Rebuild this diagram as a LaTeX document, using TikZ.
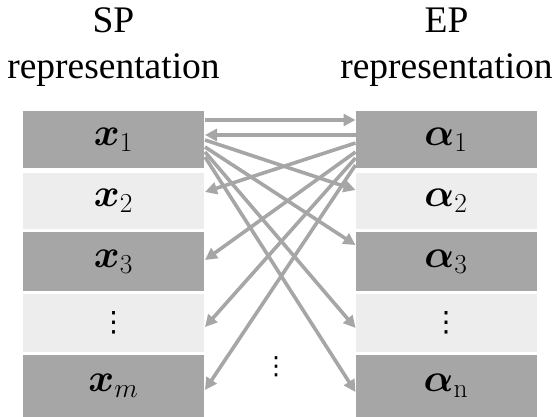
\RequirePackage{fix-cm}
\documentclass[tikz,border=0pt]{standalone}
\usepackage{amsmath,bm,graphicx}
\usepackage{fontspec}
\newfontfamily\titlefont{Liberation Serif}
\newfontfamily\dotfont{DejaVu Sans}
\newcommand{\colvdots}{{\dotfont ⋮}}
\newcommand{\mlab}[1]{\scalebox{1.4}{$#1$}}
\usetikzlibrary{arrows.meta,calc}
\definecolor{darkbox}{HTML}{A6A6A6}
\definecolor{lightbox}{HTML}{EDEDED}
\definecolor{arrcol}{HTML}{A6A6A6}
\begin{document}
\begin{tikzpicture}[x=1pt,y=-1pt,
  cell/.style={minimum width=181pt,inner sep=0pt,outer sep=0pt,font=\fontsize{28}{34}\selectfont},
  darkcell/.style={cell,fill=darkbox},
  lightcell/.style={cell,fill=lightbox},
  ttl/.style={font=\titlefont\fontsize{37.5}{46}\selectfont,anchor=base,inner sep=0pt},
  arr/.style={draw=arrcol,line width=3.6pt,-{Triangle[length=12pt,width=12pt]}}]
\useasboundingbox (0,0) rectangle (560,417);
% titles
\node[ttl] (t1a) at (113.5,33) {SP};
\node[ttl] (t1b) at (113.5,79) {representation};
\node[ttl] (t2a) at (446.5,33) {EP};
\node[ttl] (t2b) at (446.5,79) {representation};
% left column
\node[darkcell,minimum height=57pt]  (x1) at (113.5,139.5) {\mlab{\bm{x}_1}};
\node[lightcell,minimum height=56pt] (x2) at (113.5,201) {\mlab{\bm{x}_2}};
\node[darkcell,minimum height=59pt]  (x3) at (113.5,261.5) {\mlab{\bm{x}_3}};
\node[lightcell,minimum height=58pt] (x4) at (113.5,323) {\colvdots};
\node[darkcell,minimum height=62pt]  (x5) at (113.5,386) {\mlab{\bm{x}_m}};
% right column
\node[darkcell,minimum height=57pt]  (a1) at (446,139.5) {\mlab{\bm{\alpha}_1}};
\node[lightcell,minimum height=56pt] (a2) at (446,201) {\mlab{\bm{\alpha}_2}};
\node[darkcell,minimum height=59pt]  (a3) at (446,261.5) {\mlab{\bm{\alpha}_3}};
\node[lightcell,minimum height=58pt] (a4) at (446,323) {\colvdots};
\node[darkcell,minimum height=62pt]  (a5) at (446,386) {\mlab{\bm{\alpha}_{\mathrm{n}}}};
% middle dots
\node[font=\fontsize{25}{30}\selectfont,inner sep=0pt] (dots) at (276,367) {\colvdots};
% arrows
\draw[arr] ([xshift=1pt,yshift=19.5pt]x1.east) -- ([yshift=19.5pt]a1.west);
\draw[arr] ([yshift=4.5pt]a1.west) -- ([xshift=1pt,yshift=4.5pt]x1.east);
\draw[arr] ([xshift=1pt,yshift=-0.5pt]x1.east) -- ([yshift=11pt]a2.west);
\draw[arr] ([xshift=1pt,yshift=-7.5pt]x1.east) -- ([yshift=16.5pt]a3.west);
\draw[arr] ([xshift=1pt,yshift=-12.5pt]x1.east) -- ([yshift=-5pt]a4.west);
\draw[arr] ([xshift=1pt,yshift=-17.5pt]x1.east) -- ([yshift=-6pt]a5.west);
\draw[arr] ([yshift=-3.5pt]a1.west) -- ([xshift=1pt,yshift=9pt]x2.east);
\draw[arr] ([yshift=-12.5pt]a1.west) -- ([xshift=1pt,yshift=1.5pt]x3.east);
\draw[arr] ([yshift=-18.5pt]a1.west) -- ([xshift=1pt,yshift=-4pt]x4.east);
\draw[arr] ([yshift=-25.5pt]a1.west) -- ([xshift=1pt,yshift=-4pt]x5.east);
\end{tikzpicture}
\end{document}
